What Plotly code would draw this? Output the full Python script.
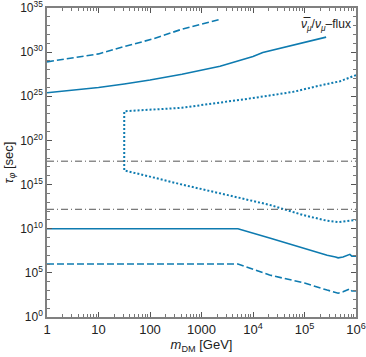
import plotly.graph_objects as go

# --- data (tau values given as log10 exponents) ---
m_solid_hi = [1, 10, 31.6, 100, 417, 2290, 1e4, 1.55e4, 2.63e5]
log_tau_solid_hi = [25.4, 26.0, 26.4, 26.85, 27.5, 28.4, 29.5, 29.95, 31.7]

m_dash_hi = [1, 10, 30, 115, 417, 2400]
log_tau_dash_hi = [28.9, 29.8, 30.6, 31.5, 32.6, 33.75]

m_dot = [1e6, 4.9e5, 2.3e5, 6e4, 1e4, 1.9e3, 417, 31.6, 31.6, 100, 417, 3e3,
         2.1e4, 9.3e4, 2.75e5, 4.5e5, 6.3e5, 1e6]
log_tau_dot = [27.4, 26.7, 26.3, 25.5, 24.8, 24.2, 23.7, 23.3, 16.6, 15.9, 15.0, 13.85,
               12.7, 11.55, 10.9, 10.75, 10.85, 11.0]

m_lo = [1, 5100, 2.1e4, 1e5, 2.75e5, 4e5, 4.5e5, 5.6e5, 6.8e5, 7.6e5, 8.3e5, 1e6]
log_tau_solid_lo = [10, 10, 8.95, 7.75, 7.0, 6.8, 6.7, 6.8, 7.0, 7.1, 6.9, 6.9]
log_tau_dash_lo = [6, 6, 4.75, 3.85, 3.05, 2.8, 2.7, 2.85, 3.05, 3.2, 2.95, 2.95]

log_tau_ref = [17.65, 12.2]   # horizontal dash-dot reference lines

x_tickvals = [1, 10, 100, 1000, 1e4, 1e5, 1e6]
x_ticktext = ["1", "10", "100", "1000", "10<sup>4</sup>", "10<sup>5</sup>", "10<sup>6</sup>"]
y_exps = [0, 5, 10, 15, 20, 25, 30, 35]

C = "#0e7bb0"
GREY = "#555555"
DASH = "7px,3px"
DOT = "2px,2px"
FONT = "Liberation Sans, Arial"

def pw(lst):
    return [10.0 ** v for v in lst]

fig = go.Figure()
fig.add_trace(go.Scatter(x=m_dash_hi, y=pw(log_tau_dash_hi), mode="lines",
                         line=dict(color=C, width=1.6, dash=DASH)))
fig.add_trace(go.Scatter(x=m_solid_hi, y=pw(log_tau_solid_hi), mode="lines",
                         line=dict(color=C, width=1.6)))
fig.add_trace(go.Scatter(x=m_dot, y=pw(log_tau_dot), mode="lines",
                         line=dict(color=C, width=2, dash=DOT)))
fig.add_trace(go.Scatter(x=m_lo, y=pw(log_tau_solid_lo), mode="lines",
                         line=dict(color=C, width=1.6)))
fig.add_trace(go.Scatter(x=m_lo, y=pw(log_tau_dash_lo), mode="lines",
                         line=dict(color=C, width=1.6, dash=DASH)))
for v in log_tau_ref:
    fig.add_trace(go.Scatter(x=[1, 1e6], y=[10.0 ** v, 10.0 ** v], mode="lines",
                             line=dict(color=GREY, width=1, dash="7px,3px,1px,3px")))

axis_common = dict(showgrid=False, zeroline=False, showline=True, mirror="allticks",
                   linecolor="#808080", linewidth=1.5, ticks="inside", ticklen=5,
                   automargin=False, ticklabeloverflow="allow",
                   tickcolor="#555555")

fig.update_xaxes(type="log", range=[0, 6], tickvals=x_tickvals, ticktext=x_ticktext,
                 tickfont=dict(family=FONT, size=13, color="#222"),
                 minor=dict(ticks="inside", ticklen=3, dtick="D1", tickcolor="#777"),
                 title=dict(text="<i>m</i><sub>DM</sub> [GeV]", standoff=4,
                            font=dict(family=FONT, size=13, color="#222")),
                 **axis_common)
fig.update_yaxes(type="log", range=[0, 35], tickvals=pw(y_exps),
                 ticktext=["10<sup>%d</sup>" % e for e in y_exps],
                 tickfont=dict(family=FONT, size=12, color="#222"),
                 minor=dict(ticks="inside", ticklen=3, dtick=1, tickcolor="#777"),
                 title=dict(text="<i>τ</i><sub><i>φ</i></sub> [sec]", standoff=4,
                            font=dict(family=FONT, size=13, color="#222")),
                 **axis_common)

fig.add_annotation(xref="paper", yref="paper", x=0.99, y=0.945, xanchor="right", yanchor="middle",
                   text="<i>ν̅</i><sub><i>μ</i></sub>/<i>ν</i><sub><i>μ</i></sub>–flux", showarrow=False,
                   font=dict(family=FONT, size=12, color="#222"))

fig.update_layout(width=366, height=357, showlegend=False,
                  margin=dict(l=47, r=10, t=8, b=40, autoexpand=False),
                  plot_bgcolor="white", paper_bgcolor="white")

fig.write_html("out.html", config={"displayModeBar": False},
               post_script="document.body.style.margin='0';document.body.style.overflow='hidden';")
